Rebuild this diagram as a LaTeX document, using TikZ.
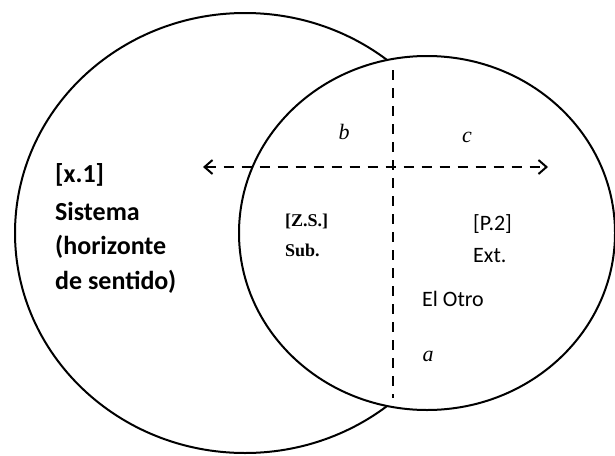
\documentclass[tikz,border=0pt]{standalone}
\usepackage{fontspec}
\setmainfont{Carlito}
\newfontfamily\serf{Liberation Serif}
\usetikzlibrary{arrows.meta}
\begin{document}
\begin{tikzpicture}[x=1pt,y=-1pt,
  ring/.style={draw=black,line width=2pt},
  dline/.style={draw=black,line width=2pt,dash pattern=on 10pt off 8pt},
  bigtxt/.style={anchor=west,inner sep=0pt,font=\fontsize{26}{30}\selectfont\bfseries},
  midtxt/.style={anchor=west,inner sep=0pt,font=\fontsize{22}{26}\selectfont},
  subtxt/.style={anchor=west,inner sep=0pt,font=\serf\fontsize{18}{22}\selectfont\bfseries},
  itxt/.style={anchor=center,inner sep=0pt,font=\serf\fontsize{22}{26}\selectfont\itshape}]
\useasboundingbox (0,0) rectangle (615,455);
% circles
\draw[ring] (245,233) ellipse [x radius=230, y radius=220];
\draw[ring,fill=white] (427,233) ellipse [x radius=188, y radius=177];
% dashed axes
\coordinate (vtop) at (393,70);
\coordinate (vbot) at (393,398);
\coordinate (hl) at (203,167);
\coordinate (hr) at (548,167);
\draw[dline] (vtop) -- (vbot);
\draw[dline,{Straight Barb[length=8pt,width=14pt,line width=2pt]}-{Straight Barb[length=8pt,width=14pt,line width=2pt]}] (hl) -- (hr);
% left texts
\node[bigtxt] (x1) at (55,175) {[x.1]};
\node[bigtxt] (sis) at (55,211) {Sistema};
\node[bigtxt] (hor) at (55,247) {(horizonte};
\node[bigtxt] (des) at (55,282) {de sentido)};
% inner texts
\node[itxt] (b) at (344,132) {b};
\node[itxt] (c) at (467,137) {c};
\node[subtxt] (zs) at (285,221) {[Z.S.]};
\node[subtxt] (sub) at (285,250) {Sub.};
\node[midtxt] (p2) at (473,224) {[P.2]};
\node[midtxt] (ext) at (473,256) {Ext.};
\node[midtxt] (otro) at (422,299) {El Otro};
\node[itxt] (a) at (428,356) {a};
\end{tikzpicture}
\end{document}
